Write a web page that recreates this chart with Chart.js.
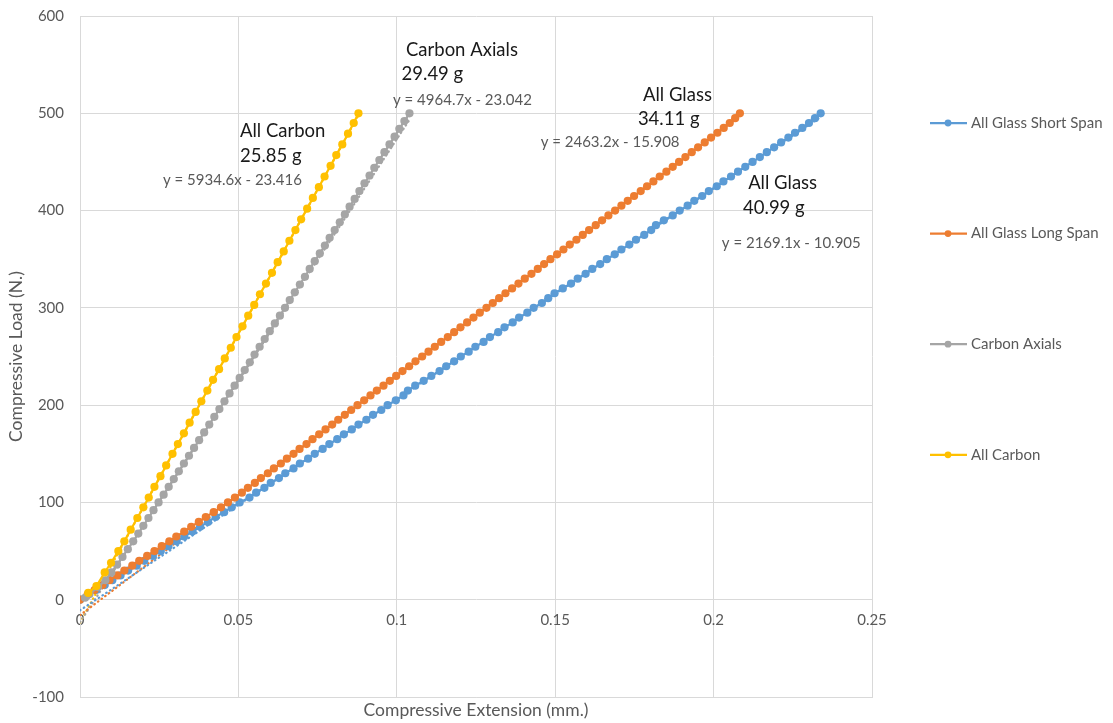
<!DOCTYPE html>
<html>
<head>
<meta charset="utf-8">
<title>Compressive Load vs Extension</title>
<script src="https://cdn.jsdelivr.net/npm/chart.js@4/dist/chart.umd.min.js"></script>
<style>
  html, body { margin: 0; padding: 0; background: #fff; }
  #wrap { width: 1113px; height: 723px; }
</style>
</head>
<body>
<div id="wrap"><canvas id="loadChart" width="1113" height="723"></canvas></div>
<script>
// compression test results, load (N) against extension (mm)

const seriesNames = ["All Glass Short Span", "All Glass Long Span", "Carbon Axials", "All Carbon"];
const seriesColors = ["#5b9bd5", "#ed7d31", "#a5a5a5", "#ffc000"];

const loadShort = [0, 5, 10, 15, 20, 25, 30, 35, 40, 45, 50, 55, 60, 65, 70, 75, 80, 85, 90, 95,
  100, 105, 110, 115, 120, 125, 130, 135, 140, 145, 150, 155, 160, 165, 170, 175, 180, 185, 190, 195,
  200, 205, 210, 215, 220, 225, 230, 235, 240, 245, 250, 255, 260, 265, 270, 275, 280, 285, 290, 295,
  300, 305, 310, 315, 320, 325, 330, 335, 340, 345, 350, 355, 360, 365, 370, 375, 380, 385, 390, 395,
  400, 405, 410, 415, 420, 425, 430, 435, 440, 445, 450, 455, 460, 465, 470, 475, 480, 485, 490, 495, 500];
const extShort = [0, 0.0025, 0.0051, 0.0078, 0.0102, 0.0128, 0.0152, 0.0179, 0.0203, 0.0230,
  0.0255, 0.0279, 0.0305, 0.0329, 0.0355, 0.0379, 0.0404, 0.0428, 0.0455, 0.0479,
  0.0504, 0.0535, 0.0556, 0.0582, 0.0602, 0.0628, 0.0648, 0.0674, 0.0694, 0.0720,
  0.0741, 0.0766, 0.0787, 0.0812, 0.0833, 0.0858, 0.0879, 0.0904, 0.0925, 0.0951,
  0.0971, 0.0997, 0.1021, 0.1035, 0.1058, 0.1085, 0.1109, 0.1135, 0.1156, 0.1181,
  0.1202, 0.1227, 0.1248, 0.1274, 0.1294, 0.1320, 0.1340, 0.1366, 0.1386, 0.1412,
  0.1432, 0.1458, 0.1478, 0.1498, 0.1524, 0.1550, 0.1571, 0.1596, 0.1617, 0.1642,
  0.1663, 0.1688, 0.1709, 0.1734, 0.1755, 0.1781, 0.1803, 0.1818, 0.1843, 0.1871,
  0.1893, 0.1918, 0.1939, 0.1964, 0.1985, 0.2010, 0.2031, 0.2055, 0.2077, 0.2100,
  0.2123, 0.2146, 0.2168, 0.2191, 0.2213, 0.2236, 0.2257, 0.2280, 0.2301, 0.2320, 0.2338];

const loadLong = [0, 5, 10, 15, 20, 25, 30, 35, 40, 45, 50, 55, 60, 65, 70, 75, 80, 85, 90, 95,
  100, 105, 110, 115, 120, 125, 130, 135, 140, 145, 150, 155, 160, 165, 170, 175, 180, 185, 190, 195,
  200, 205, 210, 215, 220, 225, 230, 235, 240, 245, 250, 255, 260, 265, 270, 275, 280, 285, 290, 295,
  300, 305, 310, 315, 320, 325, 330, 335, 340, 345, 350, 355, 360, 365, 370, 375, 380, 385, 390, 395,
  400, 405, 410, 415, 420, 425, 430, 435, 440, 445, 450, 455, 460, 465, 470, 475, 480, 485, 490, 495, 500];
const extLong = [0, 0.0024, 0.0046, 0.0071, 0.0093, 0.0118, 0.0140, 0.0165, 0.0187, 0.0212,
  0.0235, 0.0258, 0.0282, 0.0304, 0.0329, 0.0351, 0.0375, 0.0397, 0.0422, 0.0445,
  0.0467, 0.0489, 0.0511, 0.0530, 0.0552, 0.0571, 0.0593, 0.0612, 0.0634, 0.0653,
  0.0674, 0.0693, 0.0715, 0.0734, 0.0755, 0.0775, 0.0796, 0.0815, 0.0836, 0.0856,
  0.0876, 0.0897, 0.0917, 0.0937, 0.0958, 0.0978, 0.0998, 0.1018, 0.1039, 0.1059,
  0.1080, 0.1100, 0.1120, 0.1140, 0.1161, 0.1181, 0.1201, 0.1222, 0.1242, 0.1262,
  0.1283, 0.1303, 0.1323, 0.1343, 0.1364, 0.1384, 0.1404, 0.1425, 0.1445, 0.1465,
  0.1485, 0.1506, 0.1526, 0.1546, 0.1567, 0.1587, 0.1607, 0.1628, 0.1648, 0.1668,
  0.1689, 0.1709, 0.1729, 0.1749, 0.1770, 0.1790, 0.1810, 0.1830, 0.1851, 0.1871,
  0.1891, 0.1911, 0.1931, 0.1951, 0.1972, 0.1992, 0.2012, 0.2032, 0.2051, 0.2068, 0.2083];

const loadAxial = [2, 6, 13, 20, 28, 36, 44, 52, 60, 68, 76, 84, 92, 100, 108, 116, 124, 132, 140, 148,
  156, 164, 172, 180, 188, 196, 204, 212, 220, 228, 236, 244, 252, 260, 268, 276, 284, 292, 300, 308,
  316, 324, 332, 340, 348, 356, 364, 372, 380, 388, 396, 404, 412, 420, 428, 436, 444, 452, 460, 468,
  476, 484, 492, 500];
const extAxial = [0.0016, 0.0030, 0.0057, 0.0080, 0.0099, 0.0117, 0.0134, 0.0151, 0.0168, 0.0184,
  0.0200, 0.0216, 0.0232, 0.0248, 0.0264, 0.0280, 0.0296, 0.0312, 0.0328, 0.0344,
  0.0360, 0.0376, 0.0392, 0.0408, 0.0424, 0.0440, 0.0456, 0.0472, 0.0488, 0.0504,
  0.0520, 0.0536, 0.0551, 0.0567, 0.0583, 0.0599, 0.0615, 0.0631, 0.0647, 0.0662,
  0.0678, 0.0694, 0.0710, 0.0725, 0.0741, 0.0757, 0.0773, 0.0788, 0.0804, 0.0820,
  0.0836, 0.0851, 0.0867, 0.0882, 0.0898, 0.0914, 0.0929, 0.0945, 0.0961, 0.0977,
  0.0993, 0.1008, 0.1024, 0.1040];

const loadCarbon = [7, 14, 28, 38, 50, 60, 72, 84, 95, 105, 116, 127, 138, 150, 160, 171, 182, 193, 204,
  215, 226, 237, 248, 259, 270, 281, 292, 303, 314, 325, 336, 347, 358, 369, 380, 391, 402, 413, 424,
  435, 446, 457, 468, 479, 490, 500];
const extCarbon = [0.0026, 0.0052, 0.0078, 0.0098, 0.0121, 0.0140, 0.0160, 0.0181, 0.0200,
  0.0217, 0.0235, 0.0254, 0.0272, 0.0292, 0.0309, 0.0328, 0.0346, 0.0365, 0.0383,
  0.0402, 0.0420, 0.0439, 0.0457, 0.0476, 0.0494, 0.0513, 0.0531, 0.0550, 0.0568,
  0.0587, 0.0606, 0.0624, 0.0643, 0.0661, 0.0680, 0.0698, 0.0717, 0.0735, 0.0754,
  0.0772, 0.0791, 0.0809, 0.0828, 0.0846, 0.0864, 0.0879];

// linear fits y = m x + b, one per series
const trendSlope = [2169.1, 2463.2, 4964.7, 5934.6];
const trendIntercept = [-10.905, -15.908, -23.042, -23.416];

const xTickLabels = ["0", "0.05", "0.1", "0.15", "0.2", "0.25"];
const yTickLabels = ["-100", "0", "100", "200", "300", "400", "500", "600"];

// text blocks placed on the plot (data coordinates of each line's left/middle)
const notes = [
  { text: "Carbon Axials", x: 0.1029, y: 565, kind: "name" },
  { text: "29.49 g", x: 0.1015, y: 540, kind: "name" },
  { text: "y = 4964.7x - 23.042", x: 0.0988, y: 514, kind: "eq" },
  { text: "All Carbon", x: 0.0505, y: 482, kind: "name" },
  { text: "25.85 g", x: 0.0505, y: 456, kind: "name" },
  { text: "y = 5934.6x - 23.416", x: 0.0262, y: 431, kind: "eq" },
  { text: "All Glass", x: 0.1777, y: 519, kind: "name" },
  { text: "34.11 g", x: 0.1761, y: 494, kind: "name" },
  { text: "y = 2463.2x - 15.908", x: 0.1454, y: 470, kind: "eq" },
  { text: "All Glass", x: 0.2109, y: 428, kind: "name" },
  { text: "40.99 g", x: 0.2093, y: 403, kind: "name" },
  { text: "y = 2169.1x - 10.905", x: 0.2026, y: 366, kind: "eq" }
];

const FONT = "Lato, 'Open Sans', sans-serif";
const GRID = "#d9d9d9";
const TEXT = "#595959";

function pairs(xs, ys) {
  return xs.map((x, i) => ({ x: x, y: ys[i] }));
}

const measured = [
  pairs(extShort, loadShort),
  pairs(extLong, loadLong),
  pairs(extAxial, loadAxial),
  pairs(extCarbon, loadCarbon)
];

const datasets = [];
measured.forEach((pts, i) => {
  datasets.push({
    label: seriesNames[i],
    data: pts,
    showLine: true,
    borderColor: seriesColors[i],
    backgroundColor: seriesColors[i],
    borderWidth: 2.25,
    pointRadius: 4.1,
    pointHoverRadius: 4.5,
    pointBorderWidth: 0,
    order: 4 - i
  });
});
// dotted fit lines, from x = 0 to the last measured extension
measured.forEach((pts, i) => {
  const xEnd = pts[pts.length - 1].x;
  datasets.push({
    label: "trend " + seriesNames[i],
    data: [
      { x: 0, y: trendIntercept[i] },
      { x: xEnd, y: trendSlope[i] * xEnd + trendIntercept[i] }
    ],
    showLine: true,
    borderColor: seriesColors[i],
    borderWidth: 2.25,
    borderDash: [0.5, 4],
    borderCapStyle: "round",
    pointRadius: 0,
    order: 10
  });
});

// notes and the right hand legend
const extras = {
  id: "extras",
  afterDatasetsDraw(chart) {
    const { ctx, scales } = chart;
    ctx.save();
    ctx.textBaseline = "middle";
    ctx.textAlign = "left";
    notes.forEach(n => {
      ctx.font = n.kind === "eq" ? "15px " + FONT : "18.5px " + FONT;
      ctx.fillStyle = n.kind === "eq" ? TEXT : "#1a1a1a";
      ctx.fillText(n.text, scales.x.getPixelForValue(n.x), scales.y.getPixelForValue(n.y));
    });

    const lx = chart.chartArea.right + 58;
    seriesNames.forEach((name, i) => {
      const ly = 123 + i * 110.6;
      ctx.strokeStyle = seriesColors[i];
      ctx.lineWidth = 2.25;
      ctx.beginPath();
      ctx.moveTo(lx, ly);
      ctx.lineTo(lx + 37, ly);
      ctx.stroke();
      ctx.fillStyle = seriesColors[i];
      ctx.beginPath();
      ctx.arc(lx + 18, ly, 3.4, 0, Math.PI * 2);
      ctx.fill();
      ctx.fillStyle = TEXT;
      ctx.font = "15px " + FONT;
      ctx.fillText(name, lx + 41, ly);
    });
    ctx.restore();
  }
};

new Chart(document.getElementById("loadChart"), {
  type: "scatter",
  data: { datasets: datasets },
  options: {
    responsive: false,
    animation: false,
    layout: { padding: { top: 16, right: 241, left: 0, bottom: 0 } },
    plugins: {
      legend: { display: false },
      tooltip: { enabled: false }
    },
    scales: {
      x: {
        type: "linear",
        position: "bottom",
        min: 0,
        max: 0.25,
        ticks: { stepSize: 0.05, display: false },
        grid: { color: GRID, lineWidth: 1, drawTicks: false },
        border: { color: GRID },
        title: {
          display: true,
          text: "Compressive Extension (mm.)",
          color: TEXT,
          font: { family: FONT, size: 17.5 },
          padding: { top: 0, bottom: 2 }
        },
        afterFit(scale) { scale.height = 26; }
      },
      xLabels: {
        type: "linear",
        position: { y: 0 },
        min: 0,
        max: 0.25,
        grid: { display: false, drawTicks: false },
        border: { display: false },
        ticks: {
          stepSize: 0.05,
          color: TEXT,
          font: { family: FONT, size: 15 },
          padding: 11,
          maxRotation: 0,
          callback: (v, i) => xTickLabels[i]
        },
        afterFit(scale) { scale.paddingTop = 0; scale.paddingBottom = 0; }
      },
      y: {
        type: "linear",
        min: -100,
        max: 600,
        ticks: {
          stepSize: 100,
          color: TEXT,
          font: { family: FONT, size: 15 },
          padding: 16,
          callback: (v, i) => yTickLabels[i]
        },
        grid: { color: GRID, lineWidth: 1, drawTicks: false },
        border: { color: GRID },
        title: {
          display: true,
          text: "Compressive Load (N.)",
          color: TEXT,
          font: { family: FONT, size: 17.5 },
          padding: { top: 6, bottom: 0 }
        },
        afterFit(scale) {
          scale.width = 80;
          scale.paddingTop = 0;
          scale.paddingBottom = 0;
        }
      }
    }
  },
  plugins: [extras]
});
</script>
</body>
</html>
